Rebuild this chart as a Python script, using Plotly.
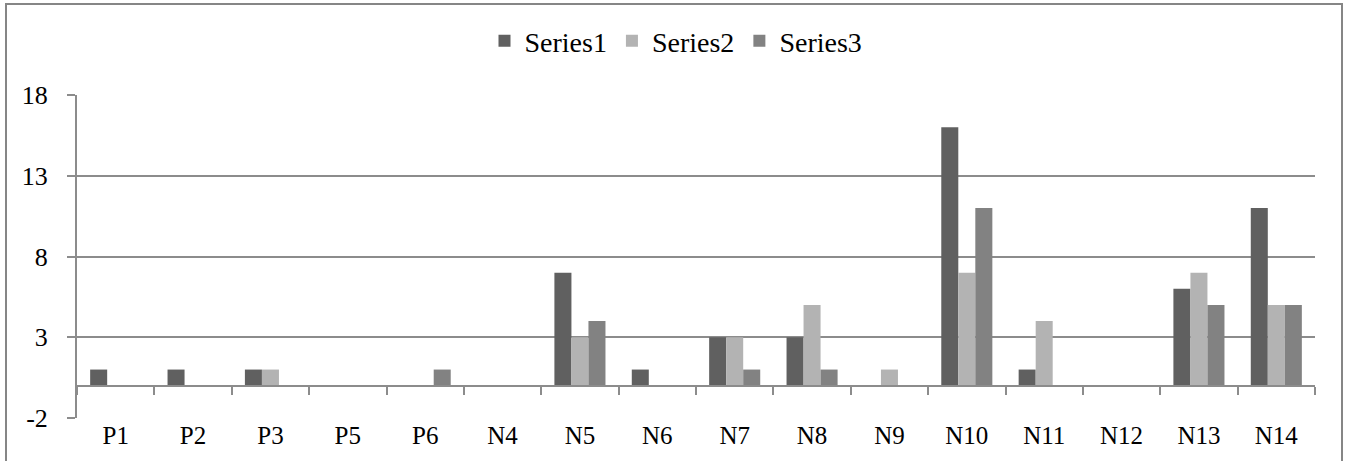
import plotly.graph_objects as go

categories = ["P1", "P2", "P3", "P5", "P6", "N4", "N5", "N6", "N7", "N8", "N9", "N10", "N11", "N12", "N13", "N14"]
series1 = [1, 1, 1, 0, 0, 0, 7, 1, 3, 3, 0, 16, 1, 0, 6, 11]
series2 = [0, 0, 1, 0, 0, 0, 3, 0, 3, 5, 1, 7, 4, 0, 7, 5]
series3 = [0, 0, 0, 0, 1, 0, 4, 0, 1, 1, 0, 11, 0, 0, 5, 5]
y_ticks = [-2, 3, 8, 13, 18]
y_tick_labels = ["-2", "3", "8", "13", "18"]

names = ["Series1", "Series2", "Series3"]
colors = ["#606060", "#b3b3b3", "#828282"]
FONT = "Liberation Serif, serif"
GRID = "#8c8c8c"

fig = go.Figure()
for name, vals, col in zip(names, [series1, series2, series3], colors):
    fig.add_trace(go.Bar(x=categories, y=vals, name=name, marker=dict(color=col, line=dict(width=0))))

# invisible trace to host the axis drawn at y = 0
fig.add_trace(go.Scatter(x=categories, y=[None] * len(categories), xaxis="x2", showlegend=False,
                         hoverinfo="skip", mode="lines"))

W, H = 1347, 461
ml, mr, mt, mb = 77, 32, 95, 43
ymin, ymax = -2, 18
pw, ph = W - ml - mr, H - mt - mb

fig.update_layout(
    width=W, height=H,
    margin=dict(l=ml, r=mr, t=mt, b=mb),
    paper_bgcolor="white", plot_bgcolor="white",
    barmode="group", bargap=0.34, bargroupgap=0,
    font=dict(family=FONT, size=25, color="black"),
    legend=dict(orientation="h", x=(676 - ml) / pw, xanchor="center", y=1.0 + (mt - 41) / ph,
                yanchor="middle", font=dict(family=FONT, size=28), itemwidth=30, traceorder="normal"),
    xaxis=dict(type="category", categoryorder="array", categoryarray=categories,
               range=[-0.5, len(categories) - 0.5], showgrid=False, showline=False, ticks="",
               zeroline=False, ticklabelstandoff=0, tickfont=dict(family=FONT, size=25), automargin=False),
    xaxis2=dict(type="category", categoryorder="array", categoryarray=categories, overlaying="x",
                range=[-0.5, len(categories) - 0.5], anchor="free",
                position=(0 - ymin) / (ymax - ymin), showline=True, linecolor=GRID, linewidth=2,
                ticks="outside", tickson="boundaries", ticklen=8, tickcolor=GRID, tickwidth=2,
                showticklabels=False, showgrid=False, zeroline=False, automargin=False),
    yaxis=dict(range=[ymin, ymax], tickvals=y_ticks, ticktext=y_tick_labels, showgrid=True,
               gridcolor=GRID, gridwidth=2,
               showline=True, linecolor=GRID, linewidth=2, ticks="outside", ticklen=8,
               tickcolor=GRID, tickwidth=2, zeroline=False, ticklabelstandoff=14,
               tickfont=dict(family=FONT, size=26), automargin=False),
    shapes=[dict(type="rect", xref="paper", yref="paper",
                 x0=(6 - ml) / pw, x1=(1342 - ml) / pw,
                 y0=-(mb + 20) / ph, y1=1 + (mt - 4) / ph,
                 line=dict(color="#868686", width=2), layer="below")],
)

fig.write_html("out.html", config={"displayModeBar": False},
               post_script="document.body.style.margin='0';")
